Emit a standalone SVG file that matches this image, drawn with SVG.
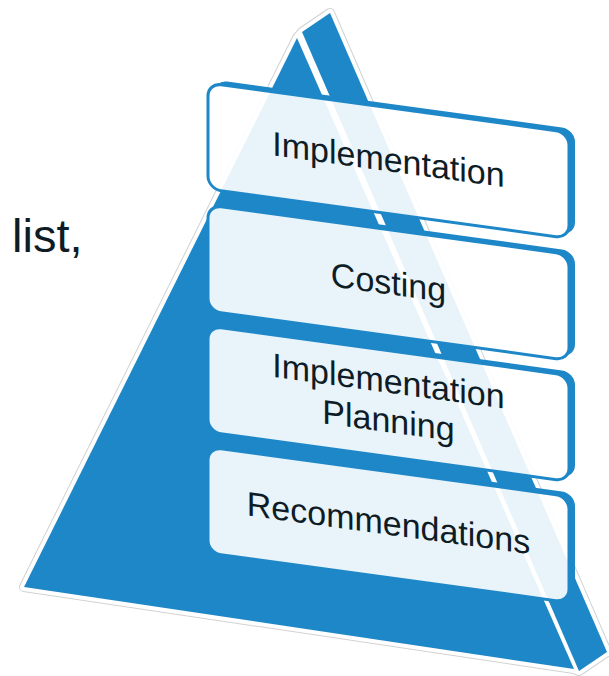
<svg xmlns="http://www.w3.org/2000/svg" width="609" height="676" viewBox="0 0 609 676">
  <style>
    .blue { fill: #1e87c8; }
    .face { fill: #ffffff; fill-opacity: 0.9; stroke: #1e87c8; stroke-width: 3; }
    .back { fill: #1e87c8; }
    .lbl { font-family: "Liberation Sans", Arial, sans-serif; font-size: 34px; fill: #0e1c26; text-anchor: middle; }
    .side { font-family: "Liberation Sans", Arial, sans-serif; font-size: 47px; fill: #0e1c26; }
  </style>
  <defs>
    <mask id="notface" maskUnits="userSpaceOnUse" x="-100" y="-100" width="900" height="400">
      <rect x="-100" y="-100" width="900" height="400" fill="#fff"/>
      <rect x="208" y="0" width="361" height="106" rx="13" fill="#000"/>
    </mask>
  </defs>
  <rect width="609" height="676" fill="#ffffff"/>

  <text id="side-text" class="side" x="12" y="252">list,</text>

  <g id="pyramid">
    <polygon points="24,587 297,38 302,32 330,13 607,652 579,671 574,669" fill="none" stroke="#d2d2d2" stroke-width="10" stroke-linejoin="round"/>
    <polygon points="24,587 297,38 302,32 330,13 607,652 579,671 574,669" fill="#ffffff" stroke="#ffffff" stroke-width="8" stroke-linejoin="round"/>
    <polygon class="blue" points="297,38 24,587 574,669"/>
    <polygon class="blue" points="302,32 330,13 607,652 579,671"/>
  </g>

  <g id="connectors"></g>

  <g id="box-implementation" transform="translate(0,54.5) skewY(7.8)">
    <rect class="back" x="214" y="-4" width="361" height="106" rx="13" mask="url(#notface)"/>
    <rect class="face" x="208" y="0" width="361" height="106" rx="13"/>
    <text class="lbl" x="388.5" y="63.5">Implementation</text>
  </g>

  <g id="box-costing" transform="translate(0,176.5) skewY(7.8)">
    <rect class="back" x="214" y="-4" width="361" height="106" rx="13" mask="url(#notface)"/>
    <rect class="face" x="208" y="0" width="361" height="106" rx="13"/>
    <text class="lbl" x="388.5" y="64.5">Costing</text>
  </g>

  <g id="box-implementation-planning" transform="translate(0,297.5) skewY(7.8)">
    <rect class="back" x="214" y="-4" width="361" height="106" rx="13" mask="url(#notface)"/>
    <rect class="face" x="208" y="0" width="361" height="106" rx="13"/>
    <text class="lbl" x="388.5" y="42">Implementation</text>
    <text class="lbl" x="388.5" y="81.5">Planning</text>
  </g>

  <g id="box-recommendations" transform="translate(0,418.5) skewY(7.8)">
    <rect class="back" x="214" y="-4" width="361" height="106" rx="13" mask="url(#notface)"/>
    <rect class="face" x="208" y="0" width="361" height="106" rx="13"/>
    <text class="lbl" x="388.5" y="63">Recommendations</text>
  </g>
</svg>
